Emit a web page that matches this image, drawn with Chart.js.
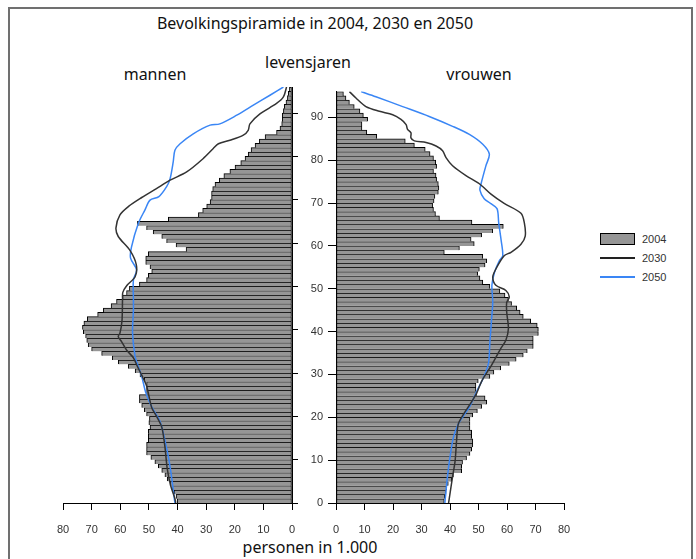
<!DOCTYPE html>
<html lang="nl">
<head>
  <meta charset="UTF-8">
  <title>Bevolkingspiramide</title>
  <script src="https://cdn.jsdelivr.net/npm/chart.js"></script>
  <style>
    body { margin: 0; background: #fff; }
    .wrap { position: relative; width: 696px; height: 559px; overflow: hidden; font-family: "Noto Sans", sans-serif; color: #111; }
    .frame { position: absolute; left: 8px; top: 7px; width: 681px; height: 600px; border: 2px solid #707070; }
    .txt { position: absolute; transform: translate(-50%, -50%); white-space: nowrap; font-size: 16px; }
    .chart { position: absolute; }
    .leg { position: absolute; font-family: "Liberation Sans", Arial, sans-serif; font-size: 11px; color: #333; }
    .leg .sw { position: absolute; left: 0; width: 35px; }
    .leg .lb { position: absolute; left: 42px; transform: translateY(-50%); }
  </style>
</head>
<body>
  <div class="wrap">
    <div class="frame"></div>
    <div class="txt" style="left:315px; top:23px;">Bevolkingspiramide in 2004, 2030 en 2050</div>
    <div class="txt" style="left:308px; top:62px;">levensjaren</div>
    <div class="txt" style="left:155px; top:74px;">mannen</div>
    <div class="txt" style="left:479px; top:74px;">vrouwen</div>
    <div class="txt" style="left:310px; top:547px;">personen in 1.000</div>

    <div class="chart" style="left:40px; top:80px;"><canvas id="mannen" width="270" height="479"></canvas></div>
    <div class="chart" style="left:300px; top:80px;"><canvas id="vrouwen" width="300" height="479"></canvas></div>

    <div class="leg" style="left:600px; top:233px;">
      <div class="sw" style="top:0; height:12px; background:#969696; border:1px solid #000; box-sizing:border-box;"></div>
      <div class="lb" style="top:6px;">2004</div>
      <div class="sw" style="top:24px; height:1.5px; background:#222;"></div>
      <div class="lb" style="top:25px;">2030</div>
      <div class="sw" style="top:43px; height:1.5px; background:#3a86f5;"></div>
      <div class="lb" style="top:44px;">2050</div>
    </div>
  </div>

<script>
  // leeftijden 0 t/m 95 (een balk per levensjaar)
  const ages = Array.from({ length: 96 }, (_, i) => i);

  // 2004, personen in 1.000
  const men2004 = [40.1, 40.5, 41.2, 42, 42.6, 43.6, 44.4, 45.5, 46.7, 47.9,
    49.3, 50.8, 50.8, 50.8, 50.2, 50.2, 50.2, 49.6, 50, 49.8,
    50.8, 51.6, 52.5, 53.3, 53.3, 50.8, 50.8, 50.8, 51.6, 53.1,
    54.8, 57.2, 60.7, 62.8, 66.5, 70, 71.2, 71.7, 72.1, 72.9,
    73.2, 72.7, 71.5, 67.9, 65.9, 63.2, 61.3, 59.2, 57.8, 56.8,
    53.3, 50.8, 50.2, 49, 49.6, 51.1, 51.1, 50.2, 37, 40.5,
    43.8, 45.5, 48.5, 50.8, 54, 43.2, 32.7, 31.2, 29.8, 28.6,
    28.1, 28.1, 27.7, 26.9, 25.4, 23.8, 21.7, 19.9, 17.9, 16.4,
    15.3, 14.3, 12.9, 11.4, 9.4, 5.4, 4.2, 3.6, 3.4, 3.4,
    3.0, 2.7, 2.1, 1.6, 1.3, 0.9];

  const women2004 = [38, 38.2, 38.6, 38.8, 39.4, 40.6, 41.2, 44.1, 44.1, 44.4,
    45.8, 47, 47.6, 48, 48, 47.6, 47.6, 47, 47, 47,
    48, 49.6, 51.1, 52.9, 52.3, 49.4, 49.1, 49.1, 49.9, 54,
    55.4, 57.8, 60.8, 63.2, 65.7, 67.1, 69.2, 69.2, 69.2, 71,
    71, 70.6, 68.3, 65.7, 64.6, 63.4, 61.6, 60.5, 59.3, 57.5,
    54, 51.5, 50.5, 49.7, 50.3, 52.3, 52.9, 51.5, 38, 43.3,
    48.5, 47.4, 51.1, 55, 58.7, 47.7, 36.3, 34.9, 34.2, 33.9,
    34.4, 34.7, 35.9, 36.1, 35.9, 35.3, 35.1, 34.2, 35.3, 35,
    34.2, 33, 31.3, 27.5, 24.3, 14.3, 10.8, 9.1, 9.1, 11.1,
    9.6, 8.4, 6.4, 4.7, 3.5, 2.6];

  // prognoses: leeftijd en aantal
  const men2030Age = [0, 1, 4, 8, 13, 17.5, 20, 22, 27, 29.5, 31.5, 33.5, 35.3, 37.2, 38.4, 39.2, 42, 47, 48.6, 50.2,
    52.2, 55, 58.3, 61.5, 63.5, 66.5, 68.5, 70.5, 72.5, 74.5, 76.4, 79.5, 81.8, 82.9, 83.7, 84.9, 86, 87.5, 89.8, 92.2,
    93.7, 96];
  const men2030 = [40.6, 40.9, 42.4, 43.6, 44.4, 45.5, 47.3, 49, 50.8, 52.5, 54, 55.4, 57.8, 59.5, 60.7, 60.1, 59.4, 59.2, 59.1, 57.7,
    54.8, 54.4, 56.6, 60.7, 61.5, 60.1, 57, 52.5, 47.5, 42.6, 36.8, 31, 27.5, 25.7, 21.7, 17, 15.3, 14.7, 11.2, 5.4,
    3, 1.9];

  const men2050Age = [0, 8.4, 14.5, 18.8, 22.2, 25.3, 29.2, 31.5, 33.8, 39.2, 44.5, 47, 51.5, 53.8, 56.5, 59, 64.5, 67.6,
    69.9, 70.7, 73, 74.8, 78.7, 81.4, 82.9, 85.2, 87.2, 87.5, 89.5, 91.8, 94.1, 96];
  const men2050 = [40.9, 42.6, 44.4, 46.1, 49, 51, 52.5, 53.7, 54.8, 55.7, 55.4, 55.4, 55.4, 54.3, 56.4, 56.1, 53.7, 51.4,
    49.6, 46.5, 43.8, 42.6, 41.5, 40.9, 39.1, 34.5, 28.6, 25.2, 19.3, 13.5, 7.7, 3];

  const women2030Age = [0, 2.2, 6.1, 9.9, 14.5, 18.4, 20.7, 23, 25.7, 28.4, 32.2, 35.7, 38, 40.7, 44.5, 46.8, 48.1, 49.6,
    50.8, 52.7, 54.6, 57.7, 58.5, 60.4, 62.3, 65.3, 67.6, 69.9, 72, 74.5, 76.4, 78.7, 80.6, 82.2, 83.3, 84.1, 84.5,
    85.2, 86.4, 87.2, 88.3, 89.5, 90.6, 91.4, 92.5, 94.5, 96];
  const women2030 = [39.5, 40, 40.9, 41.8, 42.3, 42.9, 44.7, 47, 49.4, 51.1, 54.6, 57.5, 59.6, 60.5, 59.9, 59.9, 60.8, 59.6,
    56.1, 55, 56.1, 59, 61.4, 64.9, 66.4, 66.1, 64.9, 59, 54.5, 50.3, 45.6, 40.9, 38.6, 37.4, 35.1, 31.6, 27.5,
    26.3, 26.3, 25.1, 24.6, 22.8, 19.9, 15.2, 10.5, 7, 4.7];

  const women2050Age = [0, 6.1, 10.7, 15.3, 18.4, 20.3, 22.6, 26.1, 29.2, 32.6, 37.6, 43, 46.9, 50.8, 53.8, 56.5, 57.7, 61.5,
    65.3, 68.7, 69.9, 71, 73, 74.5, 78.7, 81.4, 83.7, 86, 87.9, 90.2, 92.5, 94.8, 96];
  const women2050 = [38.2, 39.1, 40, 41.2, 42.9, 44.7, 47, 49.4, 51.7, 53.5, 54, 54.6, 55, 54.7, 55.6, 57.3, 58.5, 57.9,
    57.1, 56.5, 54.2, 52, 50.5, 50.9, 52.6, 53.8, 51.5, 46.8, 40.9, 32.7, 23.4, 14, 8.8];

  const xTicks = [0, 10, 20, 30, 40, 50, 60, 70, 80];
  const yTicks = [0, 10, 20, 30, 40, 50, 60, 70, 80, 90];

  const tickFont = { family: 'Liberation Sans', size: 11 };

  function barSet(values) {
    return {
      type: 'bar',
      label: '2004',
      data: ages.map((a, i) => ({ x: values[i], y: a + 0.5 })),
      backgroundColor: '#969696',
      borderColor: '#000',
      borderWidth: { top: 1, bottom: 0, left: 1, right: 1 },
      borderSkipped: false,
      barPercentage: 1,
      categoryPercentage: 1,
      order: 2
    };
  }

  function lineSet(label, ageList, values, color) {
    return {
      type: 'line',
      label: label,
      data: ageList.map((a, i) => ({ x: values[i], y: a })),
      borderColor: color,
      borderWidth: 1.5,
      pointRadius: 0,
      tension: 0.3,
      fill: false,
      order: 1
    };
  }

  function maakGrafiek(id, datasets, links) {
    const ctx = document.getElementById(id).getContext('2d');
    return new Chart(ctx, {
      data: { datasets: datasets },
      options: {
        indexAxis: 'y',
        responsive: false,
        animation: false,
        layout: { padding: links ? { left: 23, top: 7, right: 0, bottom: 0 } : { left: 0, top: 7, right: 36, bottom: 0 } },
        plugins: { legend: { display: false }, tooltip: { enabled: false } },
        scales: {
          x: {
            type: 'linear',
            min: 0,
            max: 80,
            reverse: links,
            offset: false,
            afterBuildTicks: s => { s.ticks = xTicks.map(v => ({ value: v })); },
            afterFit: s => { s.height = 56; },
            ticks: { color: '#333', font: tickFont, padding: 13 },
            grid: { offset: false, drawOnChartArea: false, drawTicks: true, tickLength: 7, color: '#000' },
            border: { color: '#000', width: 1 }
          },
          y: {
            type: 'linear',
            position: links ? 'right' : 'left',
            min: 0,
            max: 96,
            offset: false,
            afterBuildTicks: s => { s.ticks = yTicks.map(v => ({ value: v })); },
            afterFit: s => { s.width = links ? 18 : 36; },
            ticks: { display: !links, color: '#333', font: tickFont, padding: 5 },
            grid: { offset: false, drawOnChartArea: false, drawTicks: true, tickLength: links ? 6 : 8, color: '#000' },
            border: { color: '#000', width: 1 }
          }
        }
      }
    });
  }

  maakGrafiek('mannen', [
    lineSet('2030', men2030Age, men2030, '#333'),
    lineSet('2050', men2050Age, men2050, '#3a86f5'),
    barSet(men2004)
  ], true);

  maakGrafiek('vrouwen', [
    lineSet('2030', women2030Age, women2030, '#333'),
    lineSet('2050', women2050Age, women2050, '#3a86f5'),
    barSet(women2004)
  ], false);
</script>
</body>
</html>
